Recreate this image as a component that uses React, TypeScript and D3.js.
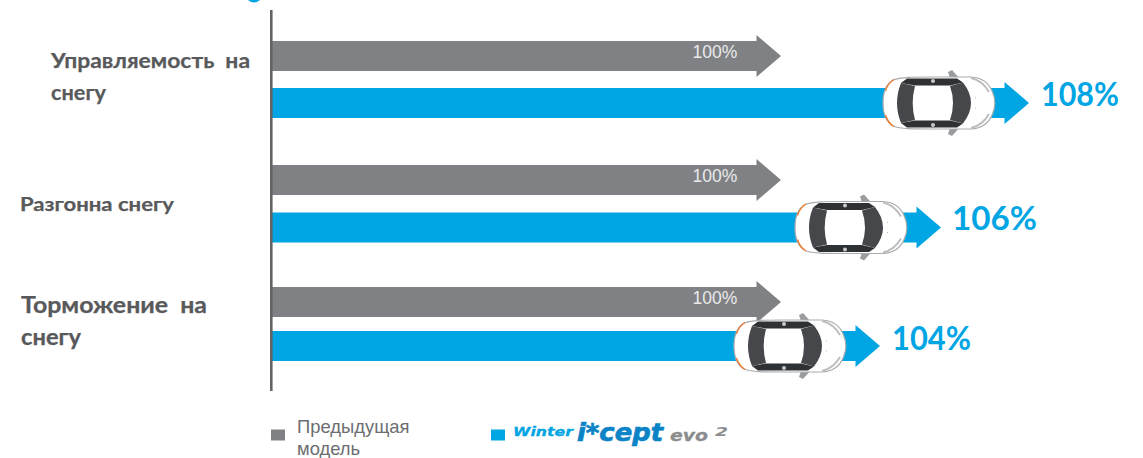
import React from "react";
import * as d3 from "d3";

const categories = ["Управляемость на снегу", "Разгон на снегу", "Торможение на снегу"];
const labelLines = [["Управляемость  на", "снегу"], ["Разгонна снегу"], ["Торможение  на", "снегу"]];
const previousValues = [100, 100, 100];
const currentValues = [108, 106, 104];
const legendPrevious = ["Предыдущая", "модель"];

// The source picture is not drawn to a uniform scale: it needs a piecewise one.
const x = d3.scaleLinear().domain([0, 100, 104, 106, 108]).range([272, 781, 880, 941, 1029]);
const prevCenter = [56, 180, 302];
const currCenter = [103, 227.5, 346];
const labelX = [51, 20, 21];
const labelBase = [[68, 99.5], [211], [313, 345]];
const labelWidth = [[199, 55], [154], [186, 60]];
const labelSize = [20.5, 19.5, 22];
const valueLabelX = [1041, 952, 892];
const valueLabelBase = [106, 230, 350];
const valueLabelWidth = [78, 85, 79];

const GRAY = "#808184";
const BLUE = "#00a5e3";
const TEXT = "#58595b";
const HALF = 15;
const HEAD = 21;
const HEAD_LEN = 24.5;

const arrowPath = (x0: number, tip: number, cy: number) => {
  const p = d3.path();
  p.moveTo(x0, cy - HALF);
  p.lineTo(tip - HEAD_LEN, cy - HALF);
  p.lineTo(tip - HEAD_LEN, cy - HEAD);
  p.lineTo(tip, cy);
  p.lineTo(tip - HEAD_LEN, cy + HEAD);
  p.lineTo(tip - HEAD_LEN, cy + HALF);
  p.lineTo(x0, cy + HALF);
  p.closePath();
  return p.toString();
};

// Top-view car, local coordinates: x 0..112 from the rear, y centred
function Car({ tx, cy }: { tx: number; cy: number }) {
  return (
    <g transform={`translate(${tx},${cy})`} filter="url(#soft)">
      <path d="M67,-25 L65,-31 L69,-33 L77,-24 Z M67,25 L65,31 L69,33 L77,24 Z" fill="#9a9c9f" />
      <path
        d="M10,-23 C18,-26 30,-26 50,-26 L88,-26 C98,-25.5 106,-20 109.5,-11 C112.5,-4 112.5,4 109.5,11 C106,20 98,25.5 88,26 L50,26 C30,26 18,26 10,23 C3,19 0,10 0,0 C0,-10 3,-19 10,-23 Z"
        fill="#ffffff"
        stroke="#a9abae"
        strokeWidth={1.2}
      />
      <path d="M18,-20 L32,-17 Q27.4,0 32,17 L18,20 Q10,0 18,-20 Z" fill="#45474b" />
      <path d="M67,-17 L80,-20.5 Q96,0 80,20.5 L67,17 Q73,0 67,-17 Z" fill="#45474b" />
      <path d="M24,-24.5 L74,-24.5 L80,-20.5 L67,-17.5 L32,-17.5 L18,-20 Z M24,24.5 L74,24.5 L80,20.5 L67,17.5 L32,17.5 L18,20 Z" fill="#2f3135" />
      <circle cx={50} cy={-22} r={2} fill="#c9cacc" />
      <circle cx={50} cy={22} r={2} fill="#c9cacc" />
      <path d="M2.5,-12 C4,-17 7,-21 11,-23.5 M2.5,12 C4,17 7,21 11,23.5" stroke="#ef7d32" strokeWidth={1.4} fill="none" />
      <path d="M88,-25 C97,-23 102,-18 106,-11 M88,25 C97,23 102,18 106,11" stroke="#bcbec0" strokeWidth={2} fill="none" />
      <path d="M92,-5 L93,-5 M92,5 L93,5" stroke="#bcbec0" strokeWidth={1} />
    </g>
  );
}

const LOGO_FONT = "'DejaVu Sans', sans-serif";

export default function App() {
  const x0 = x(0);
  return (
    <svg
      width={1143}
      height={458}
      viewBox="0 0 1143 458"
      style={{ position: "absolute", left: 0, top: 0, display: "block", background: "#fff" }}
    >
      <defs>
        <filter id="soft" x="-10%" y="-10%" width="120%" height="120%">
          <feGaussianBlur stdDeviation="0.35" />
        </filter>
      </defs>

      <path d="M248,0 Q254,5 260,0 Z" fill={BLUE} />

      {categories.map((c, i) => (
        <g key={c}>
          <path d={arrowPath(x0, x(previousValues[i]), prevCenter[i])} fill={GRAY} />
          <text
            x={715}
            y={prevCenter[i] + 2}
            fontFamily="'Liberation Sans', Arial, sans-serif"
            fontSize={17.5}
            fill="#e9eaeb"
            textAnchor="middle"
          >
            {previousValues[i]}%
          </text>
          <path d={arrowPath(x0, x(currentValues[i]), currCenter[i])} fill={BLUE} />
          <Car tx={x(currentValues[i]) - 146} cy={currCenter[i]} />
          <text
            x={valueLabelX[i]}
            y={valueLabelBase[i]}
            fontFamily="Lato, sans-serif"
            fontWeight={700}
            fontSize={32}
            textLength={valueLabelWidth[i]}
            lengthAdjust="spacingAndGlyphs"
            fill={BLUE}
          >
            {currentValues[i]}%
          </text>
          {labelLines[i].map((line, j) => (
            <text
              key={j}
              x={labelX[i]}
              y={labelBase[i][j]}
              fontFamily="Lato, sans-serif"
              fontWeight={700}
              fontSize={labelSize[i]}
              textLength={labelWidth[i][j]}
              lengthAdjust="spacingAndGlyphs"
              fill={TEXT}
              stroke={TEXT}
              strokeWidth={0.25}
              style={{ whiteSpace: "pre" }}
            >
              {line}
            </text>
          ))}
        </g>
      ))}

      <line x1={271.3} x2={271.3} y1={10} y2={391} stroke="#636466" strokeWidth={2.6} />

      <rect x={271} y={429.5} width={14} height={11} fill={GRAY} />
      {legendPrevious.map((t, i) => (
        <text key={t} x={297} y={433 + i * 22} fontFamily="'Liberation Sans', Arial, sans-serif" fontSize={18.4} fill="#6d6e71">
          {t}
        </text>
      ))}
      <rect x={491} y={429.5} width={14} height={11} fill={BLUE} />
      <text x={513} y={436} fontFamily={LOGO_FONT} fontWeight={700} fontStyle="italic" fontSize={13} textLength={60} lengthAdjust="spacingAndGlyphs" fill={BLUE} stroke={BLUE} strokeWidth={0.3}>
        Winter
      </text>
      <text x={577} y={441} fontFamily={LOGO_FONT} fontWeight={700} fontStyle="italic" fontSize={24} textLength={86} lengthAdjust="spacingAndGlyphs" fill="#0a84c6" stroke="#0a84c6" strokeWidth={0.7}>
        i*cept
      </text>
      <text x={670} y={441} fontFamily={LOGO_FONT} fontWeight={700} fontStyle="italic" fontSize={15} textLength={38} lengthAdjust="spacingAndGlyphs" fill="#8a8c8e" stroke="#8a8c8e" strokeWidth={0.3}>
        evo
      </text>
      <text x={715} y={436} fontFamily={LOGO_FONT} fontWeight={700} fontStyle="italic" fontSize={13} textLength={13} lengthAdjust="spacingAndGlyphs" fill="#8a8c8e">
        2
      </text>
    </svg>
  );
}
